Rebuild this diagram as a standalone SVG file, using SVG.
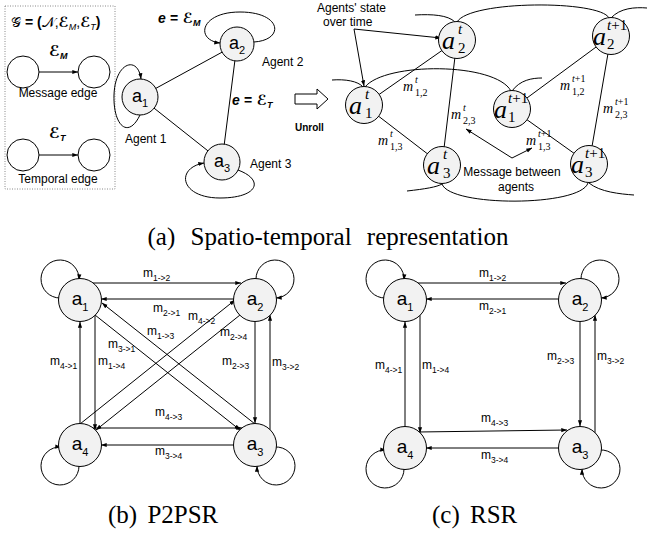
<svg xmlns="http://www.w3.org/2000/svg" width="647" height="536" viewBox="0 0 647 536">
<defs>
<marker id="ah" viewBox="0 0 10 10" refX="9.5" refY="5" markerWidth="6" markerHeight="6" orient="auto" markerUnits="userSpaceOnUse"><path d="M0,1.5 L10,5 L0,8.5 z" fill="#000"/></marker>
</defs>
<style>
.n{fill:#f2f2f2;stroke:#000;stroke-width:1}
.w{fill:#fff;stroke:#000;stroke-width:1}
.e{fill:none;stroke:#000;stroke-width:1}
.a{marker-end:url(#ah)}
.s{font-family:"Liberation Sans",Arial,sans-serif;fill:#000;font-size:12px}
.nl{font-family:"Liberation Sans",Arial,sans-serif;font-size:19px;text-anchor:middle}
.nt{font-family:"Liberation Sans",Arial,sans-serif;font-size:18px;text-anchor:middle}
.ns{font-size:11px}
.ml{font-family:"Liberation Sans",Arial,sans-serif;font-size:12px}
.ms{font-size:8.5px}
.mi{font-family:"Liberation Serif","Times New Roman",serif;font-style:italic}
.up{font-family:"Liberation Serif","Times New Roman",serif;font-style:normal}
.big{font-size:26px}
.sc{font-size:15px}
.mm{font-size:14px}
.ss{font-size:10px}
.cap{font-family:"Liberation Serif","Times New Roman",serif;font-size:25px}
</style>

<!-- ===== Legend ===== -->
<g id="legend">
<rect x="5" y="6" width="110" height="183" fill="none" stroke="#888" stroke-width="1" stroke-dasharray="1,1.5"/>
<text x="11" y="27" font-size="14" font-family="DejaVu Serif,DejaVu Sans,serif"><tspan>𝒢</tspan><tspan font-family="Liberation Sans,sans-serif" font-weight="bold"> = (</tspan><tspan>𝒩</tspan><tspan font-family="Liberation Sans,sans-serif">,</tspan><tspan font-family="DejaVu Sans,sans-serif" font-weight="bold" font-style="italic">ℰ</tspan><tspan font-family="Liberation Sans,sans-serif" font-style="italic" font-size="9" dy="3">M</tspan><tspan font-family="Liberation Sans,sans-serif" dy="-3">,</tspan><tspan font-family="DejaVu Sans,sans-serif" font-weight="bold" font-style="italic">ℰ</tspan><tspan font-family="Liberation Sans,sans-serif" font-style="italic" font-size="9" dy="3">T</tspan><tspan font-family="Liberation Sans,sans-serif" font-weight="bold" dy="-3">)</tspan></text>
<text x="49" y="56" font-size="15" font-family="DejaVu Sans,sans-serif" font-weight="bold" font-style="italic">ℰ<tspan font-family="Liberation Sans,sans-serif" font-size="9" dy="3">M</tspan></text>
<circle class="w" cx="23" cy="72" r="16"/>
<circle class="w" cx="94" cy="72" r="16"/>
<line class="e a" x1="39" y1="72" x2="78" y2="72"/>
<text class="s" x="58" y="97" text-anchor="middle">Message edge</text>
<text x="49" y="138" font-size="15" font-family="DejaVu Sans,sans-serif" font-weight="bold" font-style="italic">ℰ<tspan font-family="Liberation Sans,sans-serif" font-size="9" dy="3">T</tspan></text>
<circle class="w" cx="23" cy="155" r="16"/>
<circle class="w" cx="94" cy="155" r="16"/>
<line class="e a" x1="39" y1="155" x2="78" y2="155"/>
<text class="s" x="58" y="183" text-anchor="middle">Temporal edge</text>
</g>

<!-- ===== Agent graph connectors ===== -->
<g id="agent-edges">
<line class="e" x1="140" y1="97" x2="237" y2="44"/>
<line class="e" x1="237" y1="44" x2="222" y2="162"/>
<line class="e" x1="140" y1="97" x2="222" y2="162"/>
<path class="e a" d="M 140,115 C 128,140 113,125 114,95 C 115,62 138,55 141,79"/>
<path class="e a" d="M 254,42 C 285,40 282,12 240,12 C 200,12 195,40 220,43"/>
<path class="e a" d="M 238,170 C 265,180 258,198 220,198 C 180,198 175,168 204,163"/>
</g>
<g id="a1"><circle class="n" cx="140" cy="97" r="18"/><text class="nt" x="140" y="102">a<tspan class="ns" dy="5">1</tspan></text></g>
<g id="a2"><circle class="n" cx="237" cy="44" r="17"/><text class="nt" x="237" y="49">a<tspan class="ns" dy="5">2</tspan></text></g>
<g id="a3"><circle class="n" cx="222" cy="162" r="18"/><text class="nt" x="222" y="167">a<tspan class="ns" dy="5">3</tspan></text></g>
<g id="agent-labels">
<text x="158" y="23" font-family="Liberation Sans,sans-serif" font-size="14" font-weight="bold" font-style="italic">e =<tspan font-family="DejaVu Sans,sans-serif"> ℰ</tspan><tspan font-size="9" dy="3">M</tspan></text>
<text x="232" y="105" font-family="Liberation Sans,sans-serif" font-size="14" font-weight="bold" font-style="italic">e =<tspan font-family="DejaVu Sans,sans-serif"> ℰ</tspan><tspan font-size="9" dy="3">T</tspan></text>
<text class="s" x="125" y="143">Agent 1</text>
<text class="s" x="262" y="66">Agent 2</text>
<text class="s" x="250" y="168">Agent 3</text>
</g>

<!-- ===== Unroll ===== -->
<g id="unroll">
<polygon class="w" points="295,94 317,94 317,89 328,99 317,109 317,104 295,104"/>
<text x="295" y="131" font-family="Liberation Sans,sans-serif" font-size="10" font-weight="bold">Unroll</text>
</g>

<!-- ===== Unrolled graph connectors ===== -->
<g id="unrolled-edges">
<line class="e" x1="364" y1="105" x2="457" y2="40"/>
<line class="e" x1="457" y1="40" x2="442" y2="165"/>
<line class="e" x1="364" y1="105" x2="442" y2="165"/>
<line class="e" x1="512" y1="109" x2="611" y2="36"/>
<line class="e" x1="611" y1="36" x2="589" y2="164"/>
<line class="e" x1="512" y1="109" x2="589" y2="164"/>
<path class="e" d="M 415,15 C 432,14 448,15 455,22"/>
<path class="e" d="M 457,22 C 470,0 600,0 609,18"/>
<path class="e" d="M 611,18 C 620,8 635,7 647,8"/>
<path class="e" d="M 332,80 C 345,79 358,81 363,87"/>
<path class="e" d="M 365,87 C 385,62 495,62 511,91"/>
<path class="e" d="M 512,91 C 520,80 532,78 542,78"/>
<path class="e" d="M 407,191 C 425,189 437,187 442,184"/>
<path class="e" d="M 442,184 C 450,207 580,207 588,183"/>
<path class="e" d="M 589,183 C 600,192 620,194 634,195"/>
<path class="e a" d="M 354,29 L 441,38"/>
<path class="e a" d="M 354,29 L 364,86"/>
<path class="e a" d="M 512,158 L 466,129"/>
<path class="e a" d="M 512,158 L 532,148"/>
</g>
<g id="a2t"><circle class="n" cx="457" cy="40" r="18.5"/><text class="mi big" x="442" y="49">a</text><text class="mi sc" x="458" y="34">t</text><text class="up sc" x="458" y="53">2</text></g>
<g id="a2t1"><circle class="n" cx="611" cy="36" r="18.5"/><text class="mi big" x="593" y="45">a</text><text class="mi sc" x="607" y="30">t<tspan class="up">+1</tspan></text><text class="up sc" x="607" y="49">2</text></g>
<g id="a1t"><circle class="n" cx="364" cy="105" r="18.5"/><text class="mi big" x="349" y="114">a</text><text class="mi sc" x="365" y="99">t</text><text class="up sc" x="365" y="118">1</text></g>
<g id="a1t1"><circle class="n" cx="512" cy="109" r="18.5"/><text class="mi big" x="494" y="118">a</text><text class="mi sc" x="508" y="103">t<tspan class="up">+1</tspan></text><text class="up sc" x="508" y="122">1</text></g>
<g id="a3t"><circle class="n" cx="442" cy="165" r="18.5"/><text class="mi big" x="427" y="174">a</text><text class="mi sc" x="443" y="159">t</text><text class="up sc" x="443" y="178">3</text></g>
<g id="a3t1"><circle class="n" cx="589" cy="164" r="18.5"/><text class="mi big" x="571" y="173">a</text><text class="mi sc" x="585" y="158">t<tspan class="up">+1</tspan></text><text class="up sc" x="585" y="177">3</text></g>
<g id="unrolled-labels">
<text class="s" x="317" y="12">Agents' state</text>
<text class="s" x="323" y="26">over time</text>
<text class="mi mm" x="403" y="91">m</text><text class="mi ss" x="415" y="83">t</text><text class="up ss" x="415" y="96">1,2</text>
<text class="mi mm" x="451" y="119">m</text><text class="mi ss" x="463" y="111">t</text><text class="up ss" x="463" y="124">2,3</text>
<text class="mi mm" x="378" y="145">m</text><text class="mi ss" x="390" y="137">t</text><text class="up ss" x="390" y="150">1,3</text>
<text class="mi mm" x="560" y="90">m</text><text class="mi ss" x="572" y="82">t<tspan class="up">+1</tspan></text><text class="up ss" x="572" y="95">1,2</text>
<text class="mi mm" x="603" y="113">m</text><text class="mi ss" x="615" y="105">t<tspan class="up">+1</tspan></text><text class="up ss" x="615" y="118">2,3</text>
<text class="mi mm" x="526" y="145">m</text><text class="mi ss" x="538" y="137">t<tspan class="up">+1</tspan></text><text class="up ss" x="538" y="150">1,3</text>
<text class="s" x="512" y="176" text-anchor="middle">Message between</text>
<text class="s" x="516" y="191" text-anchor="middle">agents</text>
</g>

<text class="cap" x="328" y="245" text-anchor="middle" word-spacing="9">(a) Spatio-temporal representation</text>

<!-- ===== P2PSR ===== -->
<g id="p2psr-edges">
<line class="e a" x1="93" y1="283" x2="241" y2="283"/>
<line class="e a" x1="234" y1="299" x2="101" y2="299"/>
<line class="e a" x1="80" y1="424" x2="80" y2="322"/>
<line class="e a" x1="95" y1="315" x2="95" y2="430"/>
<line class="e a" x1="255" y1="322" x2="255" y2="423"/>
<line class="e a" x1="270" y1="430" x2="270" y2="315"/>
<line class="e a" x1="93" y1="428" x2="242" y2="428"/>
<line class="e a" x1="234" y1="445" x2="101" y2="445"/>
<line class="e a" x1="255" y1="424" x2="102" y2="303"/>
<line class="e a" x1="95" y1="315" x2="240" y2="430"/>
<line class="e a" x1="80" y1="424" x2="235" y2="300"/>
<line class="e a" x1="240" y1="315" x2="96" y2="430"/>
<path class="e a" d="M 60,298 A 19,19 0 1 1 79,280"/>
<path class="e a" d="M 256,279 A 19,19 0 1 1 276,298"/>
<path class="e a" d="M 275,447 A 19,19 0 1 1 257,466"/>
<path class="e a" d="M 79,466 A 19,19 0 1 1 61,447"/>
</g>
<g id="p2psr-a1"><circle class="n" cx="80" cy="300" r="21.5"/><text class="nl" x="80" y="305">a<tspan class="ns" dy="6">1</tspan></text></g>
<g id="p2psr-a2"><circle class="n" cx="255" cy="300" r="21.5"/><text class="nl" x="255" y="305">a<tspan class="ns" dy="6">2</tspan></text></g>
<g id="p2psr-a3"><circle class="n" cx="255" cy="445" r="21.5"/><text class="nl" x="255" y="450">a<tspan class="ns" dy="6">3</tspan></text></g>
<g id="p2psr-a4"><circle class="n" cx="80" cy="445" r="21.5"/><text class="nl" x="80" y="450">a<tspan class="ns" dy="6">4</tspan></text></g>
<g id="p2psr-labels" class="ml">
<text x="143" y="277">m<tspan class="ms" dy="4">1-&gt;2</tspan></text>
<text x="153" y="312">m<tspan class="ms" dy="4">2-&gt;1</tspan></text>
<text x="188" y="320">m<tspan class="ms" dy="4">4-&gt;2</tspan></text>
<text x="147" y="335">m<tspan class="ms" dy="4">1-&gt;3</tspan></text>
<text x="220" y="336">m<tspan class="ms" dy="4">2-&gt;4</tspan></text>
<text x="108" y="348">m<tspan class="ms" dy="4">3-&gt;1</tspan></text>
<text x="50" y="365">m<tspan class="ms" dy="4">4-&gt;1</tspan></text>
<text x="98" y="365">m<tspan class="ms" dy="4">1-&gt;4</tspan></text>
<text x="222" y="365">m<tspan class="ms" dy="4">2-&gt;3</tspan></text>
<text x="272" y="366">m<tspan class="ms" dy="4">3-&gt;2</tspan></text>
<text x="155" y="416">m<tspan class="ms" dy="4">4-&gt;3</tspan></text>
<text x="155" y="455">m<tspan class="ms" dy="4">3-&gt;4</tspan></text>
</g>

<!-- ===== RSR ===== -->
<g id="rsr-edges">
<line class="e a" x1="418" y1="283" x2="566" y2="283"/>
<line class="e a" x1="559" y1="299" x2="426" y2="299"/>
<line class="e a" x1="405" y1="426" x2="405" y2="322"/>
<line class="e a" x1="420" y1="315" x2="420" y2="433"/>
<line class="e a" x1="580" y1="322" x2="580" y2="426"/>
<line class="e a" x1="595" y1="433" x2="595" y2="315"/>
<line class="e a" x1="418" y1="432" x2="567" y2="430"/>
<line class="e a" x1="559" y1="448" x2="426" y2="448"/>
<path class="e a" d="M 385,298 A 19,19 0 1 1 404,280"/>
<path class="e a" d="M 581,279 A 19,19 0 1 1 601,298"/>
<path class="e a" d="M 600,450 A 19,19 0 1 1 582,469"/>
<path class="e a" d="M 404,469 A 19,19 0 1 1 386,450"/>
</g>
<g id="rsr-a1"><circle class="n" cx="405" cy="300" r="21.5"/><text class="nl" x="405" y="305">a<tspan class="ns" dy="6">1</tspan></text></g>
<g id="rsr-a2"><circle class="n" cx="580" cy="300" r="21.5"/><text class="nl" x="580" y="305">a<tspan class="ns" dy="6">2</tspan></text></g>
<g id="rsr-a3"><circle class="n" cx="580" cy="448" r="21.5"/><text class="nl" x="580" y="453">a<tspan class="ns" dy="6">3</tspan></text></g>
<g id="rsr-a4"><circle class="n" cx="405" cy="448" r="21.5"/><text class="nl" x="405" y="453">a<tspan class="ns" dy="6">4</tspan></text></g>
<g id="rsr-labels" class="ml">
<text x="479" y="277">m<tspan class="ms" dy="4">1-&gt;2</tspan></text>
<text x="479" y="310">m<tspan class="ms" dy="4">2-&gt;1</tspan></text>
<text x="375" y="369">m<tspan class="ms" dy="4">4-&gt;1</tspan></text>
<text x="422" y="369">m<tspan class="ms" dy="4">1-&gt;4</tspan></text>
<text x="547" y="360">m<tspan class="ms" dy="4">2-&gt;3</tspan></text>
<text x="597" y="360">m<tspan class="ms" dy="4">3-&gt;2</tspan></text>
<text x="481" y="422">m<tspan class="ms" dy="4">4-&gt;3</tspan></text>
<text x="481" y="459">m<tspan class="ms" dy="4">3-&gt;4</tspan></text>
</g>

<text class="cap" x="108" y="523" word-spacing="4">(b) P2PSR</text>
<text class="cap" x="432" y="523" word-spacing="4">(c) RSR</text>
</svg>
